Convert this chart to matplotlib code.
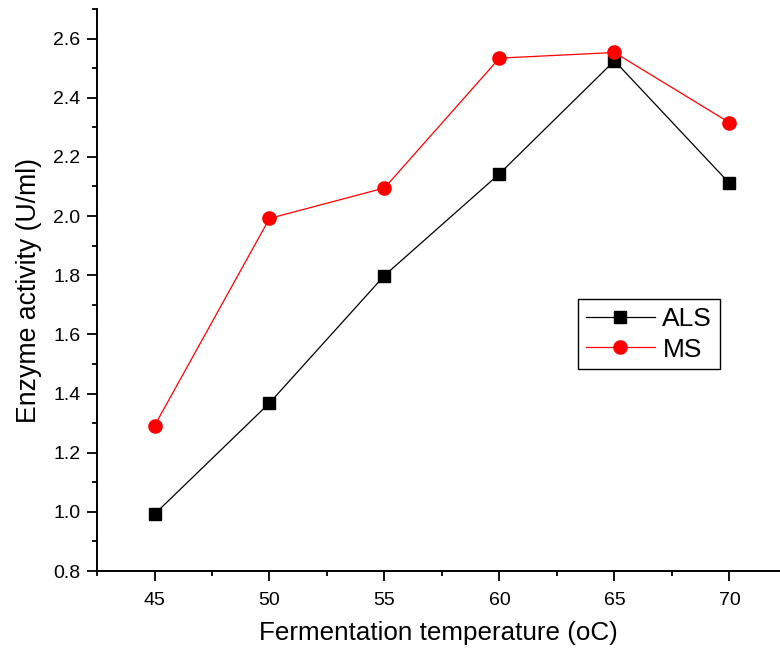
import matplotlib
matplotlib.use("Agg")
import matplotlib.pyplot as plt
from matplotlib.ticker import MultipleLocator

plt.rcParams['font.family'] = ['Liberation Sans', 'DejaVu Sans']

temps = [45, 50, 55, 60, 65, 70]
als = [0.992, 1.368, 1.799, 2.143, 2.525, 2.111]
ms = [1.291, 1.992, 2.095, 2.534, 2.553, 2.316]

fig = plt.figure(figsize=(7.8, 6.58), dpi=100)
ax = fig.add_axes([0.1244, 0.1322, 0.8756, 0.8541])

ax.plot(temps, als, color='black', lw=0.9, marker='s', ms=8.5, label='ALS')
ax.plot(temps, ms, color='red', lw=0.9, marker='o', ms=9.5, label='MS')

ax.set_xlim(42.5, 72.2)
ax.set_ylim(0.8, 2.7)
ax.xaxis.set_major_locator(MultipleLocator(5))
ax.xaxis.set_minor_locator(MultipleLocator(2.5))
ax.yaxis.set_major_locator(MultipleLocator(0.2))
ax.yaxis.set_minor_locator(MultipleLocator(0.1))
ax.yaxis.set_major_formatter(plt.FuncFormatter(lambda v, p: f"{v:.1f}"))

for s in ['top', 'right']:
    ax.spines[s].set_visible(False)
for s in ['left', 'bottom']:
    ax.spines[s].set_linewidth(1.4)

ax.tick_params(which='major', direction='out', length=7, width=1.3, labelsize=14, pad=5)
ax.tick_params(which='minor', direction='out', length=3.5, width=1.3)
ax.tick_params(axis='x', which='major', pad=8)

ax.set_xlabel('Fermentation temperature (oC)', fontsize=18.7, labelpad=9)
ax.set_ylabel('Enzyme activity (U/ml)', fontsize=19.2, labelpad=8)

leg = ax.legend(loc='upper left', bbox_to_anchor=(578 / 780, 1 - 299 / 658),
                bbox_transform=fig.transFigure, fontsize=19, fancybox=False,
                framealpha=1, edgecolor='black', borderpad=0.3, handlelength=2.6,
                labelspacing=0.25, handletextpad=0.3, borderaxespad=0)
leg.get_frame().set_linewidth(1.0)

fig.savefig('out.png', dpi=100)
